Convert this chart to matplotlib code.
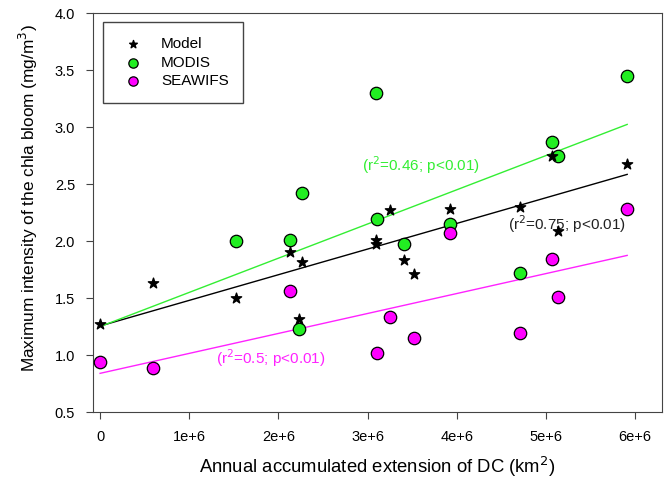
import numpy as np
import matplotlib
matplotlib.use('Agg')
import matplotlib.pyplot as plt

plt.rcParams['font.family'] = ['Liberation Sans', 'DejaVu Sans']

# Model (stars)
model_x = [0.0, 0.59, 1.52, 2.13, 2.26, 2.23, 3.09, 3.09, 3.25, 3.41, 3.52, 3.92, 4.71, 5.07, 5.13, 5.91]
model_y = [1.27, 1.63, 1.50, 1.90, 1.82, 1.32, 2.01, 1.97, 2.27, 1.83, 1.71, 2.28, 2.30, 2.75, 2.09, 2.68]

# MODIS
modis_x = [1.52, 2.13, 2.26, 2.23, 3.09, 3.11, 3.41, 3.92, 4.71, 5.07, 5.13, 5.91]
modis_y = [2.00, 2.01, 2.42, 1.23, 3.30, 2.19, 1.97, 2.15, 1.72, 2.87, 2.75, 3.45]

# SEAWIFS
sea_x = [0.0, 0.59, 2.13, 3.11, 3.25, 3.52, 3.92, 4.71, 5.07, 5.13, 5.91]
sea_y = [0.94, 0.89, 1.56, 1.02, 1.33, 1.15, 2.07, 1.19, 1.84, 1.51, 2.28]

# regression lines (intercept, slope per 1e6)
fit_model = (1.255, 0.225)
fit_modis = (1.25, 0.30)
fit_sea = (0.84, 0.175)

fig, ax = plt.subplots(figsize=(6.7, 4.82), dpi=100)
fig.subplots_adjust(left=0.139, right=0.988, top=0.973, bottom=0.145)

xl = np.array([0.0, max(model_x)]) * 1e6
ax.plot(xl, fit_model[0] + fit_model[1] * xl / 1e6, color='black', lw=1, zorder=2)
ax.plot(xl, fit_modis[0] + fit_modis[1] * xl / 1e6, color='#33ee33', lw=1, zorder=2)
ax.plot(xl, fit_sea[0] + fit_sea[1] * xl / 1e6, color='#ff22ff', lw=1, zorder=2)

ax.scatter(np.array(model_x) * 1e6, model_y, marker='*', s=60, color='black', zorder=4, label='Model')
ax.scatter(np.array(modis_x) * 1e6, modis_y, marker='o', s=80, color='#22ee22',
           edgecolors='black', linewidths=0.9, zorder=3, label='MODIS')
ax.scatter(np.array(sea_x) * 1e6, sea_y, marker='o', s=80, color='#ff00ff',
           edgecolors='black', linewidths=0.9, zorder=3, label='SEAWIFS')

ax.text(2.94e6, 2.67, '(r$^2$=0.46; p<0.01)', color='#33ee33', fontsize=11, va='center')
ax.text(4.57e6, 2.15, '(r$^2$=0.75; p<0.01)', color='#222222', fontsize=11, va='center')
ax.text(1.30e6, 0.97, '(r$^2$=0.5; p<0.01)', color='#ff22ff', fontsize=11, va='center')

ax.set_xlim(-0.078e6, 6.3e6)
ax.set_ylim(0.5, 4.0)
ax.set_xticks([0, 1e6, 2e6, 3e6, 4e6, 5e6, 6e6])
ax.set_xticklabels(['0', '1e+6', '2e+6', '3e+6', '4e+6', '5e+6', '6e+6'])
ax.set_yticks(np.arange(0.5, 4.01, 0.5))
ax.set_yticklabels([f'{v:.1f}' for v in np.arange(0.5, 4.01, 0.5)])
ax.tick_params(labelsize=10.5, length=5, color='#444444', pad=8)
for s in ax.spines.values():
    s.set_color('#444444')
ax.set_xlabel('Annual accumulated extension of DC (km$^2$)', fontsize=13.3, labelpad=8)
ax.set_ylabel('Maximum intensity of the chla bloom (mg/m$^3$)', fontsize=12.4)
ax.yaxis.set_label_coords(-0.093, 0.536)

leg = ax.legend(loc='upper left', bbox_to_anchor=(0.0176, 0.977), borderaxespad=0,
                fontsize=11, fancybox=False, edgecolor='#444444', framealpha=1,
                borderpad=0.95, handletextpad=0.85, handlelength=2.0,
                labelspacing=0.32, scatterpoints=1, markerscale=0.75)
leg.get_frame().set_linewidth(1)

fig.savefig('out.png', dpi=100)
